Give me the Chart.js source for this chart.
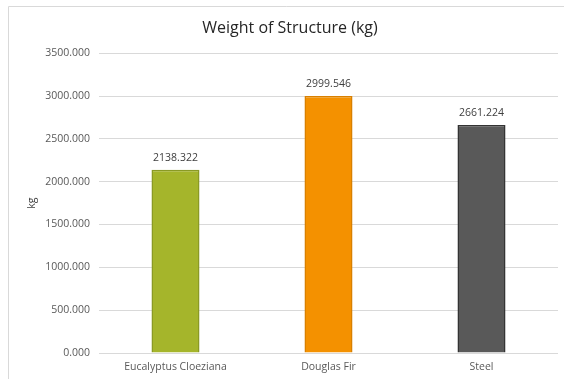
<!DOCTYPE html>
<html>
<head>
<meta charset="utf-8">
<script src="https://cdn.jsdelivr.net/npm/chart.js@4/dist/chart.umd.min.js"></script>
<style>
  html, body { margin: 0; padding: 0; background: #fff; }
  #wrap { width: 565px; height: 379px; }
</style>
</head>
<body>
<div id="wrap"><canvas id="weightChart"></canvas></div>
<script>
// Chart data
const categories = ['Eucalyptus Cloeziana', 'Douglas Fir', 'Steel'];
const weights = [2138.322, 2999.546, 2661.224];
const yTicks = [0, 500, 1000, 1500, 2000, 2500, 3000, 3500];

const fillColors = ['#a5b52b', '#f49100', '#595959'];
const edgeColors = ['#8a9a24', '#d98000', '#333333'];

const FONT = '"Open Sans", "Liberation Sans", sans-serif';

// Light frame round the chart (top and left edges only, rest is cropped)
const framePlugin = {
    id: 'frame',
    beforeDraw(chart) {
        const ctx = chart.ctx;
        ctx.save();
        ctx.strokeStyle = '#d9d9d9';
        ctx.lineWidth = 1;
        ctx.beginPath();
        ctx.moveTo(8.5, chart.height);
        ctx.lineTo(8.5, 6.5);
        ctx.lineTo(chart.width - 1, 6.5);
        ctx.stroke();
        ctx.restore();
    }
};

// Value labels above each bar
const valueLabels = {
    id: 'valueLabels',
    afterDatasetsDraw(chart) {
        const ctx = chart.ctx;
        const meta = chart.getDatasetMeta(0);
        ctx.save();
        ctx.font = '10.5px ' + FONT;
        ctx.fillStyle = '#404040';
        ctx.textAlign = 'center';
        ctx.textBaseline = 'bottom';
        meta.data.forEach((bar, i) => {
            ctx.fillText(weights[i].toFixed(3), bar.x, bar.y - 7);
        });
        ctx.restore();
    }
};

new Chart(document.getElementById('weightChart'), {
    type: 'bar',
    data: {
        labels: categories,
        datasets: [{
            data: weights,
            backgroundColor: fillColors,
            borderColor: edgeColors,
            borderWidth: 1.5,
            barPercentage: 0.314,
            categoryPercentage: 1.0
        }]
    },
    options: {
        responsive: true,
        maintainAspectRatio: false,
        animation: false,
        layout: { padding: { left: 22, right: 7, top: 0, bottom: 0 } },
        plugins: {
            legend: { display: false },
            tooltip: { enabled: false },
            title: {
                display: true,
                text: 'Weight of Structure (kg)',
                color: '#262626',
                font: { family: FONT, size: 16, weight: 'normal' },
                padding: { top: 19, bottom: 15 }
            }
        },
        scales: {
            x: {
                grid: { display: false, drawTicks: false },
                border: { display: false },
                ticks: { color: '#595959', font: { family: FONT, size: 10.5 }, padding: 8 },
                afterFit(scale) { scale.height = 26; }
            },
            y: {
                min: 0,
                max: 3500,
                afterBuildTicks(scale) { scale.ticks = yTicks.map(v => ({ value: v })); },
                grid: { color: '#d9d9d9', drawTicks: false },
                border: { display: false },
                ticks: {
                    color: '#595959',
                    font: { family: FONT, size: 10.5 },
                    padding: 9,
                    callback: v => Number(v).toFixed(3)
                },
                title: {
                    display: true,
                    text: 'kg',
                    color: '#404040',
                    font: { family: FONT, size: 10.5 },
                    padding: { top: 4, bottom: 0 }
                },
                afterFit(scale) { scale.width = 77; }
            }
        }
    },
    plugins: [framePlugin, valueLabels]
});
</script>
</body>
</html>
